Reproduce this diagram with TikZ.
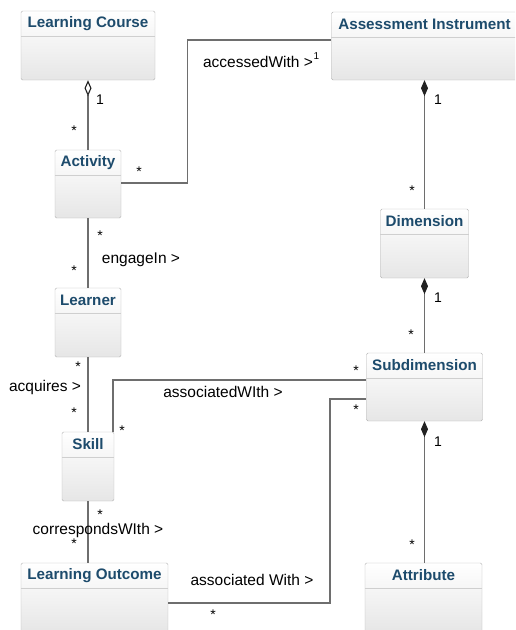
\documentclass[tikz,border=0pt]{standalone}
\usepackage{fontspec}
\setmainfont{Liberation Sans}
\usepackage{tikz}
\usetikzlibrary{positioning,arrows.meta}

\definecolor{titleblue}{HTML}{1D4B6C}
\definecolor{boxline}{HTML}{B4B4B4}
\definecolor{boxfill}{HTML}{E6E6E6}
\definecolor{sepline}{HTML}{CFCFCF}
\definecolor{linkgray}{HTML}{6E6E6E}
\definecolor{tipdark}{HTML}{222222}

\tikzset{
  umlclass/.style={draw=boxline, rounded corners=1.5pt, top color=white, bottom color=boxfill, inner sep=0pt},
  classname/.style={anchor=north, inner sep=0pt, minimum height=25pt, text=titleblue, font=\fontsize{15.2}{18}\selectfont\bfseries},
  assoc/.style={draw=linkgray, line width=1.1pt},
  mult/.style={inner sep=0pt, font=\fontsize{14}{16}\selectfont},
  role/.style={inner sep=0pt, font=\fontsize{15.5}{18}\selectfont},
}

\begin{document}
\begin{tikzpicture}[x=1pt, y=-1pt]

        \useasboundingbox (0,0) rectangle (515,630);
        \clip (0,0) rectangle (515,630);

        % left column of classes
        \node[umlclass, minimum width=134pt, minimum height=69pt] (course) at (88,45.5) {};
        \node[umlclass, minimum width=66pt, minimum height=68pt] (activity) at (88,184) {};
        \node[umlclass, minimum width=66pt, minimum height=69pt] (learner) at (88,322.5) {};
        \node[umlclass, minimum width=52pt, minimum height=69pt] (skill) at (88,466.5) {};
        \node[umlclass, minimum width=147pt, minimum height=69pt] (outcome) at (94.5,597.5) {};

        % right column of classes
        \node[umlclass, minimum width=186pt, minimum height=68pt] (instrument) at (424.5,46) {};
        \node[umlclass, minimum width=88pt, minimum height=69pt] (dimension) at (424.5,243.5) {};
        \node[umlclass, minimum width=116pt, minimum height=68pt] (subdim) at (424.5,387) {};
        \node[umlclass, minimum width=117pt, minimum height=69pt] (attribute) at (423.5,597.5) {};

        % class names and header lines
        \foreach \cls/\name in {course/Learning Course, activity/Activity, learner/Learner,
                                skill/Skill, outcome/Learning Outcome, instrument/Assessment Instrument,
                                dimension/Dimension, subdim/Subdimension, attribute/Attribute}{
            \node[classname] (\cls-name) at (\cls.north) {\name};
            \draw[sepline, line width=0.8pt] (\cls.west |- \cls-name.south) -- (\cls.east |- \cls-name.south);
        }

        % bend points of the routed links
        \coordinate (bendA) at (187.5,40);
        \coordinate (bendB) at (113,380);
        \coordinate (bendC) at (330,399);
        \coordinate (bendD) at (330,603);

        % aggregation and plain links on the left
        \draw[assoc, {Diamond[open, length=16pt, width=7pt, color=tipdark]}-] (course.south) -- (activity.north);
        \draw[assoc] (activity.south) -- (learner.north);
        \draw[assoc] (learner.south) -- (skill.north);
        \draw[assoc] (skill.south) -- (skill.south |- outcome.north);

        % composition links on the right
        \draw[assoc, {Diamond[length=16pt, width=7pt, color=tipdark]}-] (instrument.south) -- (dimension.north);
        \draw[assoc, {Diamond[length=16pt, width=7pt, color=tipdark]}-] (dimension.south) -- (subdim.north);
        \draw[assoc, {Diamond[length=16pt, width=7pt, color=tipdark]}-] (subdim.south) -- (subdim.south |- attribute.north);

        % routed associations
        \draw[assoc] (activity.east |- 0,183) -| (bendA) -- (bendA -| instrument.west);
        \draw[assoc] (skill.north -| bendB) -- (bendB) -- (bendB -| subdim.west);
        \draw[assoc] (bendD -| outcome.east) -- (bendD) -- (bendC) -- (bendC -| subdim.west);

        % association names
        \node[role] (accessed) at (258,62) {accessedWith >};
        \node[role] (engage) at (141,260) {engageIn >};
        \node[role] (acquires) at (45,387) {acquires >};
        \node[role] (assocskill) at (223,392) {associatedWIth >};
        \node[role] (corresponds) at (98,530) {correspondsWIth >};
        \node[role] (assocoutcome) at (252,580) {associated With >};

        % multiplicities
        \node[mult] (m1) at (100,100) {1};
        \node[mult] (m2) at (74,131) {*};
        \node[mult] (m3) at (139,172) {*};
        \node[mult, font=\fontsize{10}{12}\selectfont] (m4) at (316.5,56) {1};
        \node[mult] (m5) at (438,100) {1};
        \node[mult] (m6) at (412,191) {*};
        \node[mult] (m7) at (100,236) {*};
        \node[mult] (m8) at (74,271) {*};
        \node[mult] (m9) at (438,298) {1};
        \node[mult] (m10) at (411,335) {*};
        \node[mult] (m11) at (78,367) {*};
        \node[mult] (m12) at (74,413) {*};
        \node[mult] (m13) at (122,431) {*};
        \node[mult] (m14) at (356,371) {*};
        \node[mult] (m15) at (438,442) {1};
        \node[mult] (m16) at (412,545) {*};
        \node[mult] (m17) at (100,515) {*};
        \node[mult] (m18) at (74,544) {*};
        \node[mult] (m19) at (213,615) {*};
        \node[mult] (m20) at (356,410) {*};

\end{tikzpicture}
\end{document}
